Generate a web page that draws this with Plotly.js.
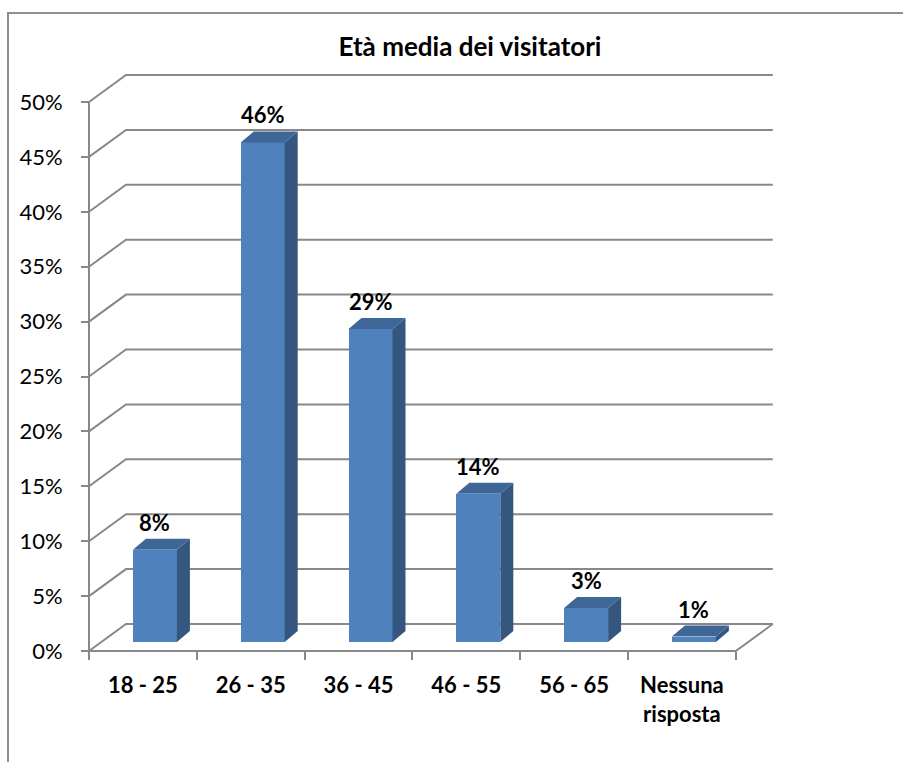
<!DOCTYPE html>
<html>
<head>
<meta charset="utf-8">
<script src="https://cdn.plot.ly/plotly-3.0.1.min.js"></script>
<style>
  html, body { margin: 0; padding: 0; background: #fff; }
  #wrap { position: relative; width: 903px; height: 762px; overflow: hidden; }
  #chart { position: absolute; left: 0; top: 0; width: 903px; height: 762px; }
  #frame { position: absolute; left: 7px; top: 12px; width: 920px; height: 800px;
           border-left: 2px solid #8e8e8e; border-top: 2px solid #8e8e8e; pointer-events: none; }
</style>
</head>
<body>
<div id="wrap"><div id="chart"></div><div id="frame"></div></div>
<script>
// ---- data ----
const categories = ['18 - 25', '26 - 35', '36 - 45', '46 - 55', '56 - 65', 'Nessuna<br>risposta'];
const values = [8.4, 45.5, 28.5, 13.5, 3.1, 0.5];      // percent
const yTickValues = [0, 5, 10, 15, 20, 25, 30, 35, 40, 45, 50];
const chartTitle = 'Età media dei visitatori';

// ---- geometry (pixels -> axis units) ----
const pxX = 107.8, pxY = 10.98;
const originPx = {x: 89, y: 651};
const plotPx = {l: 80, r: 785, t: 66, b: 660};
const wallDx = 37 / pxX, wallDy = 27 / pxY;       // floor/back wall depth
const barOffX = 12 / pxX, barOffY = 9 / pxY;      // bar front plane offset
const barW = 44 / pxX;
const depDx = 13 / pxX, depDy = 11 / pxY;         // bar depth

const n = categories.length;
const xMin = -0.5, xMax = n - 0.5;
const xRange = [xMin - (originPx.x - plotPx.l) / pxX, xMin + (plotPx.r - originPx.x) / pxX];
const yRange = [-(plotPx.b - originPx.y) / pxY, (originPx.y - plotPx.t) / pxY];
const plotW = plotPx.r - plotPx.l, plotH = plotPx.b - plotPx.t;

const gridColor = '#888888';
const FONT = 'Lato, "Open Sans", sans-serif';

// ---- grid / walls as shapes ----
const shapes = [];
yTickValues.forEach(v => {
  shapes.push({type: 'path', xref: 'x', yref: 'y', layer: 'below',
    path: `M ${xMin},${v} L ${xMin + wallDx},${v + wallDy} L ${xMax + wallDx},${v + wallDy}`,
    line: {color: gridColor, width: 2}});
});
// floor front edge and right edge
shapes.push({type: 'path', xref: 'x', yref: 'y', layer: 'below',
  path: `M ${xMin},0 L ${xMax},0 L ${xMax + wallDx},${wallDy}`,
  line: {color: gridColor, width: 2}});
// front vertical axis line
shapes.push({type: 'line', xref: 'x', yref: 'y', layer: 'below',
  x0: xMin, x1: xMin, y0: 0, y1: yTickValues[yTickValues.length - 1],
  line: {color: gridColor, width: 2}});

// ---- bars ----
const xs = categories.map((c, i) => i);
const barX = xs.map(i => i + barOffX);
const traces = [{
  type: 'bar', x: barX, y: values, base: values.map(() => barOffY), width: barW,
  marker: {color: '#4f81bd', line: {width: 0}}, hoverinfo: 'skip', showlegend: false
}];
values.forEach((v, i) => {
  const xl = barX[i] - barW / 2, xr = barX[i] + barW / 2;
  const yb = barOffY, yt = barOffY + v;
  traces.push({type: 'scatter', mode: 'lines', fill: 'toself', fillcolor: '#34567f',
    line: {width: 0, color: '#34567f'}, hoverinfo: 'skip', showlegend: false,
    x: [xr, xr + depDx, xr + depDx, xr, xr], y: [yb, yb + depDy, yt + depDy, yt, yb]});
  traces.push({type: 'scatter', mode: 'lines', fill: 'toself', fillcolor: '#3e6797',
    line: {width: 0, color: '#3e6797'}, hoverinfo: 'skip', showlegend: false,
    x: [xl, xr, xr + depDx, xl + depDx, xl], y: [yt, yt, yt + depDy, yt + depDy, yt]});
});

const annotations = values.map((v, i) => ({
  xref: 'x', yref: 'y', x: barX[i], y: barOffY + v + depDy,
  text: Math.round(v) + '%', showarrow: false, yanchor: 'bottom', yshift: 1,
  font: {family: FONT, size: 22, color: '#000', weight: 'bold'}
}));

const layout = {
  width: 903, height: 762, autosize: false,
  paper_bgcolor: '#fff', plot_bgcolor: 'rgba(0,0,0,0)',
  margin: {l: plotPx.l, r: 903 - plotPx.r, t: plotPx.t, b: 762 - plotPx.b, pad: 0},
  title: {text: '<b>' + chartTitle + '</b>', x: 470 / 903, xanchor: 'center', xref: 'container',
          y: 1 - 47 / 762, yanchor: 'middle', yref: 'container',
          font: {family: FONT, size: 26, color: '#000'}},
  showlegend: false,
  bargap: 0,
  xaxis: {range: xRange, anchor: 'free', position: (plotPx.b - originPx.y) / plotH,
          tickvals: xs, ticktext: categories.map(c => '<b>' + c + '</b>'), ticks: '',
          showgrid: false, zeroline: false, showline: false, fixedrange: true,
          ticklabelstandoff: 19,
          tickfont: {family: FONT, size: 22, color: '#000'}},
  xaxis2: {range: xRange, overlaying: 'x', anchor: 'free', position: (plotPx.b - originPx.y) / plotH,
           tickvals: Array.from({length: n + 1}, (_, k) => xMin + k),
           ticks: 'outside', ticklen: 8, tickwidth: 2, tickcolor: gridColor,
           showticklabels: false, showgrid: false, zeroline: false, showline: false},
  yaxis: {range: yRange, anchor: 'free', position: (originPx.x - plotPx.l) / plotW,
          tickvals: yTickValues, ticktext: yTickValues.map(v => v + '%'),
          ticks: 'outside', ticklen: 8, tickwidth: 2, tickcolor: gridColor,
          ticklabelstandoff: 14,
          showgrid: false, zeroline: false, showline: false, fixedrange: true,
          tickfont: {family: FONT, size: 22, color: '#000'}},
  shapes: shapes,
  annotations: annotations
};

// dummy trace so xaxis2 is drawn
traces.push({type: 'scatter', x: [xMin], y: [0], xaxis: 'x2', mode: 'markers',
  marker: {opacity: 0}, hoverinfo: 'skip', showlegend: false});

Plotly.newPlot('chart', traces, layout, {displayModeBar: false, staticPlot: true});
</script>
</body>
</html>
